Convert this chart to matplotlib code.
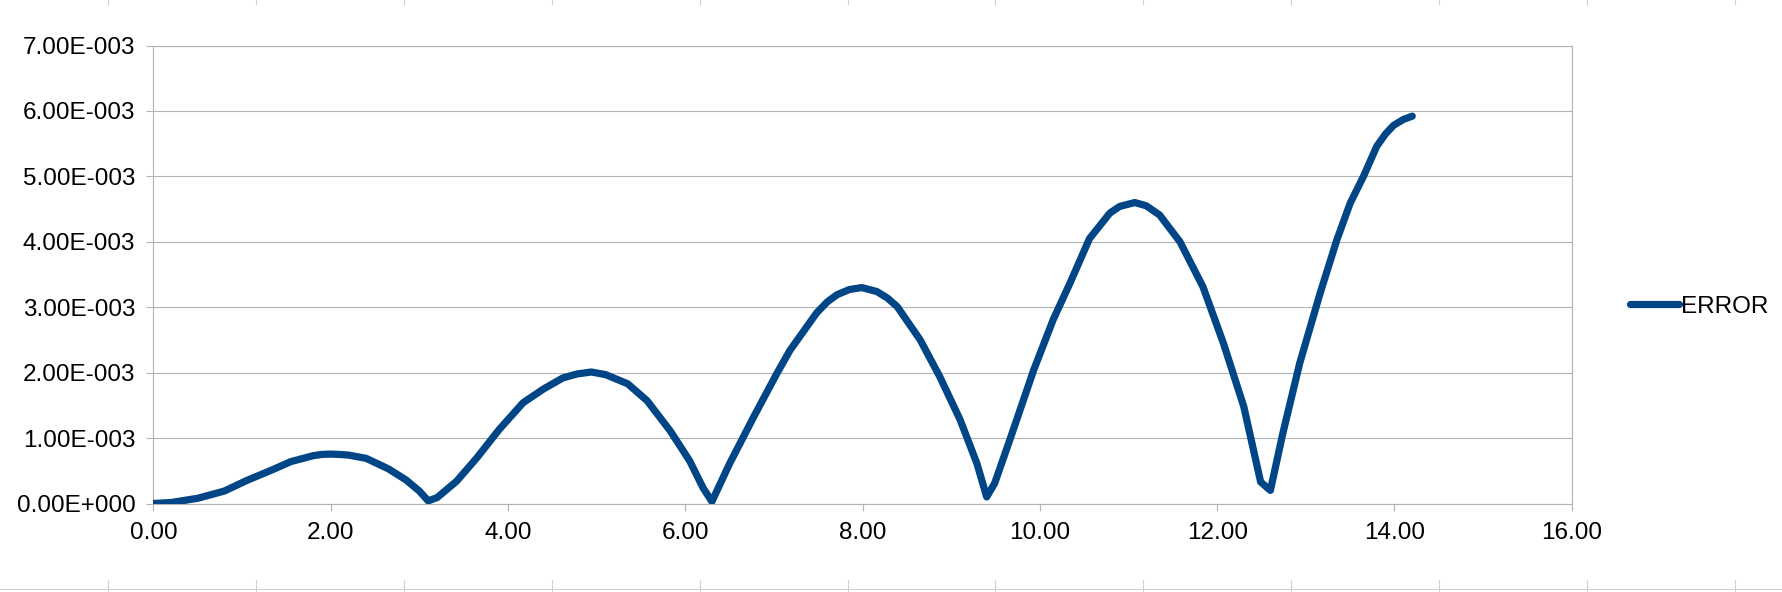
import matplotlib
matplotlib.use("Agg")
import matplotlib.pyplot as plt
from matplotlib.lines import Line2D
from matplotlib.ticker import FixedLocator, FuncFormatter

plt.rcParams["font.family"] = ["Liberation Sans", "DejaVu Sans"]

# values
time = [0.0, 0.2, 0.5, 0.8, 1.05, 1.35, 1.55, 1.8, 1.9, 2.0, 2.1, 2.2, 2.4, 2.65,
        2.85, 3.0, 3.1, 3.2, 3.42, 3.65, 3.9, 4.17, 4.4, 4.62, 4.78, 4.94, 5.1,
        5.35, 5.57, 5.83, 6.05, 6.2, 6.3, 6.5, 6.77, 7.03, 7.18, 7.48, 7.6, 7.71,
        7.85, 7.99, 8.16, 8.28, 8.39, 8.65, 8.87, 9.1, 9.29, 9.4, 9.49, 9.66, 9.93,
        10.15, 10.34, 10.56, 10.79, 10.9, 11.07, 11.2, 11.35, 11.58, 11.84, 12.07,
        12.3, 12.49, 12.6, 12.74, 12.93, 13.16, 13.35, 13.5, 13.65, 13.8, 13.9,
        13.99, 14.1, 14.2]
error_e3 = [0.0, 0.015, 0.08, 0.19, 0.35, 0.52, 0.64, 0.73, 0.75, 0.755, 0.75,
            0.74, 0.69, 0.53, 0.36, 0.19, 0.04, 0.09, 0.34, 0.70, 1.13, 1.54,
            1.75, 1.92, 1.98, 2.01, 1.97, 1.83, 1.57, 1.11, 0.65, 0.24, 0.03,
            0.61, 1.32, 1.98, 2.34, 2.91, 3.08, 3.19, 3.27, 3.30, 3.24, 3.14,
            3.01, 2.50, 1.94, 1.28, 0.61, 0.10, 0.31, 0.97, 2.04, 2.81, 3.37,
            4.05, 4.44, 4.54, 4.60, 4.55, 4.41, 4.00, 3.31, 2.45, 1.48, 0.33,
            0.20, 1.07, 2.14, 3.21, 4.03, 4.59, 5.00, 5.46, 5.65, 5.78, 5.87, 5.92]
error = [v * 1e-3 for v in error_e3]

x_ticks = [0, 2, 4, 6, 8, 10, 12, 14, 16]
y_ticks = [0, 1e-3, 2e-3, 3e-3, 4e-3, 5e-3, 6e-3, 7e-3]
y_tick_labels = ["0.00E+000", "1.00E-003", "2.00E-003", "3.00E-003",
                 "4.00E-003", "5.00E-003", "6.00E-003", "7.00E-003"]

W, H = 1782, 592
GRID = "#b3b3b3"
LINE = "#004586"

fig = plt.figure(figsize=(W / 100, H / 100), dpi=100)
ax = fig.add_axes([153.4 / W, 1 - 503.5 / H, (1571.8 - 153.4) / W, (503.5 - 45.5) / H])

(line,) = ax.plot(time, error, color=LINE, lw=5.2, solid_capstyle="round",
                  solid_joinstyle="round", label="ERROR", zorder=3)

ax.set_xlim(0, 16)
ax.set_ylim(0, 7e-3)
ax.xaxis.set_major_locator(FixedLocator(x_ticks))
ax.yaxis.set_major_locator(FixedLocator(y_ticks))
ax.xaxis.set_major_formatter(FuncFormatter(lambda v, p: f"{v:.2f}"))
ax.set_yticklabels(y_tick_labels)

ax.yaxis.grid(True, color=GRID, lw=0.8)
ax.set_axisbelow(True)
for s in ax.spines.values():
    s.set_color(GRID)
    s.set_linewidth(0.8)
ax.tick_params(axis="both", length=5, width=0.8, color=GRID, labelsize=17.5,
               labelcolor="black")
ax.tick_params(axis="y", pad=8)
ax.tick_params(axis="x", pad=8)

fig.legend(handles=[line], loc="center left", bbox_to_anchor=(1630 / W, 1 - 307 / H),
           frameon=False, fontsize=17.5, handlelength=2.0, handletextpad=0.1,
           borderpad=0, borderaxespad=0)

# faint spreadsheet cell borders around the chart
CELL = "#d0d0d0"
fig.add_artist(Line2D([0, 1], [1 - 589 / H] * 2, transform=fig.transFigure,
                      color=CELL, lw=0.8))
for k in range(12):
    xe = (108 + 147.9 * k) / W
    fig.add_artist(Line2D([xe, xe], [1, 1 - 4 / H], transform=fig.transFigure,
                          color=CELL, lw=0.8))
    fig.add_artist(Line2D([xe, xe], [0, 1 - 580 / H], transform=fig.transFigure,
                          color=CELL, lw=0.8))

fig.savefig("out.png", dpi=100)
